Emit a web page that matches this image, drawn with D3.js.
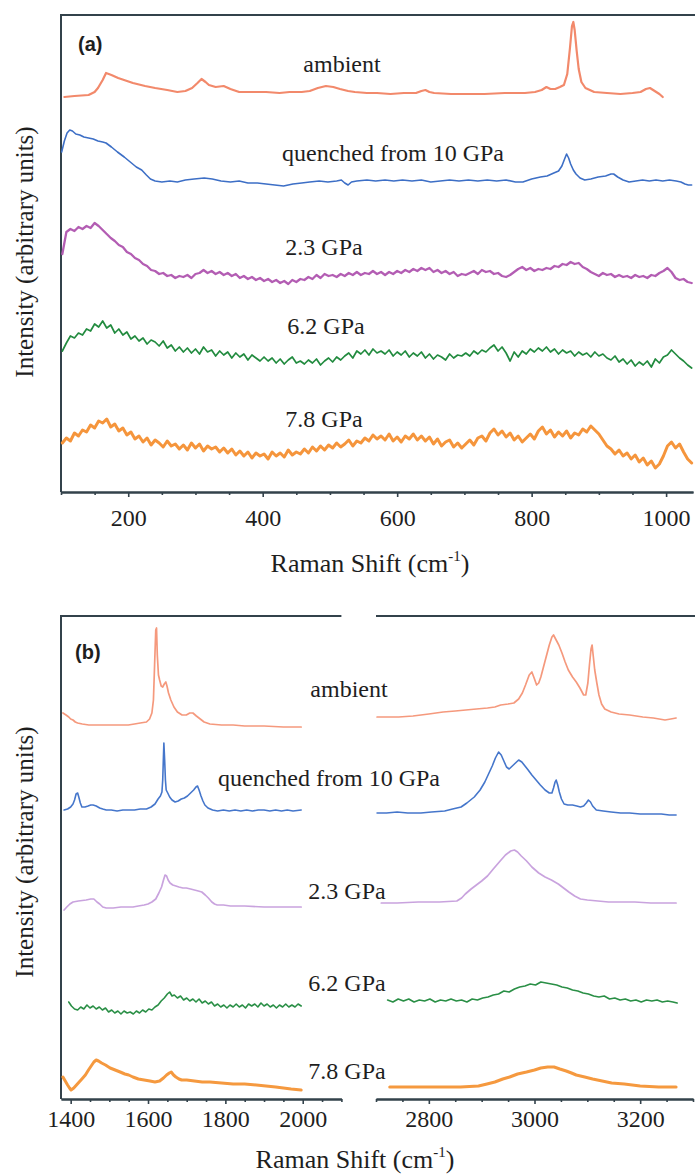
<!DOCTYPE html>
<html><head><meta charset="utf-8">
<script src="https://cdn.jsdelivr.net/npm/d3@7"></script>
<style>body{margin:0;background:#fff}svg{display:block}</style>
</head><body><svg id="fig" width="695" height="1175"></svg>
<script>
// ---------- data: panel (a), 100-1040 cm-1 ----------
const seriesNames = ["ambient", "quenched from 10 GPa", "2.3 GPa", "6.2 GPa", "7.8 GPa"];
const offsetsA = [396, 311, 216, 137, 42];
const ticksA = [200, 400, 600, 800, 1000];

const ambientA = [[105,-1],[120,0],[141,1],[150,4],[155,8],[162,16],[167,23],[175,21],[185,18],[207,13],[225,10],[240,8],[258,6],[273,4],[285,5],[295,8],[303,13],[309,17],[315,14],[320,11],[330,9],[342,10],[352,7],[365,4],[385,4],[405,4],[425,3],[440,4],[458,4],[470,5],[482,8],[494,10],[505,9],[515,7],[527,5],[537,4],[555,3],[570,3],[590,2],[610,3],[628,3],[636,5],[642,6],[648,4],[655,3],[680,2],[700,2],[730,2],[760,3],[790,3],[805,4],[815,6],[822,9],[828,7],[835,7],[842,9],[848,11],[853,22],[857,48],[860,70],[862,74],[864,66],[867,45],[870,27],[874,14],[880,8],[893,4],[912,3],[932,2],[950,3],[962,4],[970,7],[976,8],[983,5],[990,2],[995,-1]];

const quenchedA = [[101,29],[105,40],[109,48],[113,51],[117,50],[122,47],[128,46],[134,44],[141,43],[148,42],[155,40],[162,39],[167,38],[175,34],[184,29],[194,24],[203,19],[212,14],[220,11],[227,6],[233,2],[240,0],[250,-1],[262,0],[273,-1],[285,1],[298,2],[313,3],[325,2],[338,0],[352,-1],[365,0],[378,-2],[392,-2],[405,-3],[418,-4],[431,-5],[445,-3],[458,-2],[470,-1],[484,0],[497,-1],[510,0],[517,1],[522,-2],[527,-4],[532,-1],[540,0],[555,1],[568,0],[582,1],[595,0],[608,1],[622,0],[636,1],[650,-1],[664,0],[678,1],[692,0],[706,1],[720,0],[734,1],[748,0],[762,1],[776,-1],[787,-1],[800,2],[813,4],[823,5],[833,8],[840,10],[845,15],[849,22],[852,27],[855,23],[858,17],[862,11],[866,7],[872,3],[879,1],[888,2],[899,4],[910,5],[918,7],[922,7],[928,4],[936,1],[945,-1],[955,0],[965,1],[975,0],[985,1],[995,0],[1005,1],[1015,0],[1022,-1],[1028,-3],[1033,-4],[1038,-4]];

// the high-pressure scans share one channel grid, 102-1038 cm-1 every 6 cm-1
const channelsA = d3.range(102, 1039, 6);
const gpa23A = [22,44,47,45,49,47,50,48,53,50, 46,42,38,35,31,29,24,22,18,16, 12,10,6,5,2,3,0,1,-2,0, -1,1,-2,2,3,6,3,5,2,4, 1,3,0,2,-2,0,-3,-1,-4,-2, -5,-3,-6,-4,-7,-5,-8,-4,-6,-3, -4,-1,-3,1,-2,2,0,1,-1,2, 0,3,1,4,1,3,2,5,2,4, 1,4,2,5,3,6,4,7,5,8, 6,8,4,6,3,5,2,4,0,2, 1,3,5,2,6,4,5,2,3,0, -1,1,4,7,9,6,8,5,7,6, 8,7,10,9,12,11,14,12,13,9, 7,4,2,0,3,1,2,-1,1,-1, 0,-2,1,-1,0,-2,1,0,3,5, 8,4,-2,-4,-3,-6,-7];
const gpa62A = [4,12,19,17,22,20,26,24,31,28, 34,27,30,22,26,20,23,16,19,14, 17,11,15,13,9,14,7,10,4,8, 3,7,2,6,1,8,3,5,-1,4, 0,3,-3,2,-2,1,-5,0,-3,-6, -2,-6,-3,-8,-4,-9,-5,-2,-8,-6, -9,-5,-8,-4,-10,-6,-3,-7,-2,-5, -1,2,-3,4,1,5,0,6,2,4, 1,5,-1,3,0,4,-2,2,-1,3, -3,1,-4,0,-2,-5,1,-3,0,-1, 2,-1,4,1,5,3,7,10,4,8, 2,-6,3,-2,4,1,6,3,7,4, 8,3,6,1,5,2,4,-1,3,0, 2,-2,3,-1,1,-3,-5,-1,-7,-4, -9,-5,-11,-7,-10,-6,-12,-4,-8,-2, 0,5,1,-3,-6,-10,-13];
const gpa78A = [7,12,9,17,14,20,18,25,22,29, 27,31,23,26,19,22,15,18,11,14, 8,12,5,10,7,3,9,4,6,1, 5,0,7,2,6,-1,4,1,3,-2, 2,-3,1,-5,-1,-6,-2,-8,-3,-6, -4,-9,-2,-6,-3,-7,0,-5,-2,-4, 1,-3,3,-1,4,0,5,2,7,3, 6,10,4,9,7,12,9,15,11,14, 10,16,9,13,8,14,11,16,10,14, 9,13,6,11,4,8,10,3,7,2, 6,10,5,12,14,9,17,21,15,19, 13,17,10,14,8,12,16,11,19,23, 16,20,13,18,14,19,12,17,15,21, 18,24,20,16,10,4,1,-4,0,-6, -3,-9,-5,-12,-8,-15,-11,-18,-14,-6, 4,8,2,6,-2,-9,-13];

// ---------- data: panel (b), 1375-2100 and 2700-3300 cm-1 ----------
const offsetsB = [374, 289, 192, 93, 14];
const ticksBLow = [1400, 1600, 1800, 2000];
const ticksBHigh = [2800, 3000, 3200];

const ambientBLow = [[1380,12],[1388,10],[1395,8],[1400,6],[1406,5],[1412,3],[1418,2],[1430,1],[1447,0],[1470,0],[1500,0],[1525,0],[1549,0],[1565,1],[1580,2],[1596,3],[1604,6],[1610,12],[1614,25],[1617,60],[1620,95],[1622,97],[1624,70],[1627,50],[1630,45],[1634,39],[1638,38],[1642,41],[1646,43],[1649,39],[1653,32],[1659,25],[1667,18],[1676,13],[1688,10],[1699,10],[1708,12],[1716,12],[1725,9],[1735,6],[1745,3],[1760,1],[1790,0],[1820,0],[1850,-1],[1900,-1],[1950,-2],[1996,-2]];
const ambientBHigh = [[2702,8],[2720,8],[2743,8],[2770,9],[2800,11],[2827,13],[2850,14],[2870,15],[2890,16],[2911,17],[2925,18],[2936,20],[2950,21],[2961,22],[2970,26],[2977,32],[2983,40],[2990,50],[2995,53],[3000,46],[3004,40],[3008,42],[3012,48],[3016,56],[3022,68],[3028,80],[3033,88],[3036,90],[3040,86],[3046,80],[3052,72],[3058,63],[3064,55],[3072,48],[3079,43],[3086,37],[3093,30],[3097,30],[3101,42],[3104,60],[3107,76],[3109,80],[3111,70],[3114,55],[3118,42],[3122,30],[3127,21],[3133,16],[3145,13],[3160,11],[3180,10],[3205,8],[3225,7],[3247,5],[3258,6],[3268,7]];

const quenchedBLow = [[1383,0],[1392,1],[1400,3],[1406,6],[1410,10],[1414,16],[1418,17],[1421,13],[1425,7],[1429,3],[1437,3],[1445,4],[1452,5],[1458,5],[1466,4],[1475,2],[1483,1],[1492,0],[1505,0],[1520,-1],[1535,0],[1550,0],[1565,0],[1580,1],[1596,1],[1608,3],[1618,6],[1626,11],[1632,14],[1636,18],[1638,30],[1640,55],[1641,67],[1643,50],[1645,30],[1647,20],[1651,17],[1656,13],[1662,10],[1670,8],[1678,9],[1686,11],[1694,12],[1702,14],[1710,17],[1718,20],[1724,23],[1728,24],[1732,20],[1737,14],[1742,9],[1747,5],[1755,2],[1767,0],[1780,-1],[1795,0],[1810,-1],[1825,0],[1840,-1],[1855,0],[1870,-1],[1885,0],[1900,0],[1915,-1],[1930,0],[1945,-1],[1960,0],[1975,-1],[1996,0]];
const quenchedBHigh = [[2702,-3],[2720,-3],[2740,-2],[2760,-3],[2785,-3],[2805,-2],[2830,-1],[2845,1],[2861,3],[2872,7],[2886,13],[2897,20],[2906,28],[2913,36],[2920,44],[2926,52],[2932,58],[2937,55],[2942,49],[2947,43],[2952,41],[2958,44],[2964,47],[2970,50],[2976,48],[2982,44],[2988,40],[2995,35],[3003,30],[3011,25],[3020,20],[3028,17],[3033,17],[3036,22],[3039,28],[3041,30],[3044,25],[3047,18],[3051,11],[3056,6],[3063,5],[3072,5],[3080,4],[3087,3],[3093,4],[3098,7],[3102,10],[3106,8],[3110,4],[3117,0],[3130,-1],[3145,-2],[3163,-3],[3180,-3],[3200,-4],[3220,-4],[3240,-4],[3255,-5],[3268,-5]];

const gpa23BLow = [[1383,-3],[1390,0],[1398,3],[1406,5],[1420,6],[1440,7],[1452,8],[1460,8],[1468,5],[1475,3],[1483,0],[1492,-1],[1510,-1],[1530,0],[1545,0],[1561,0],[1575,1],[1590,2],[1600,3],[1610,5],[1620,8],[1628,14],[1635,20],[1640,27],[1644,32],[1648,31],[1652,27],[1657,24],[1664,22],[1672,21],[1680,20],[1690,19],[1699,19],[1710,18],[1720,17],[1730,16],[1739,15],[1748,12],[1756,9],[1765,5],[1772,3],[1779,2],[1795,2],[1813,1],[1850,1],[1900,0],[1950,0],[1996,0]];
const gpa23BHigh = [[2710,4],[2740,4],[2780,5],[2820,5],[2853,6],[2862,9],[2869,13],[2880,18],[2890,22],[2900,26],[2911,31],[2922,38],[2935,46],[2945,52],[2955,56],[2962,57],[2968,55],[2975,51],[2985,46],[2995,40],[3008,34],[3020,30],[3032,27],[3045,23],[3055,19],[3065,15],[3076,11],[3087,8],[3100,7],[3120,6],[3140,5],[3163,5],[3190,5],[3220,4],[3245,4],[3268,4]];

const gpa62BLow = [[1395,4],[1402,0],[1410,-3],[1418,-4],[1426,-1],[1434,-3],[1442,1],[1450,-2],[1458,0],[1466,-3],[1474,-1],[1482,-4],[1490,-2],[1498,-6],[1506,-4],[1514,-7],[1522,-5],[1530,-8],[1538,-5],[1546,-7],[1554,-6],[1562,-8],[1570,-5],[1578,-7],[1586,-4],[1594,-6],[1602,-3],[1610,-4],[1618,-1],[1626,1],[1634,5],[1642,8],[1650,12],[1656,14],[1662,10],[1668,11],[1676,8],[1684,10],[1692,6],[1700,8],[1708,5],[1716,7],[1724,4],[1732,7],[1740,3],[1748,5],[1756,2],[1764,4],[1772,0],[1780,2],[1788,-1],[1796,1],[1804,-2],[1812,1],[1820,-1],[1828,2],[1836,-1],[1844,1],[1852,-2],[1860,2],[1868,0],[1876,2],[1884,-1],[1892,3],[1900,0],[1908,2],[1916,-1],[1924,1],[1932,-2],[1940,1],[1948,-1],[1956,2],[1964,-1],[1972,1],[1980,-1],[1988,2],[1996,0]];
const gpa62BHigh = [[2722,6],[2732,4],[2742,7],[2752,5],[2762,7],[2772,4],[2782,6],[2792,5],[2802,7],[2812,4],[2822,6],[2832,5],[2842,7],[2852,5],[2862,6],[2872,4],[2882,7],[2892,6],[2902,8],[2912,9],[2922,11],[2932,12],[2942,15],[2952,14],[2962,17],[2972,19],[2982,20],[2992,22],[3002,21],[3012,24],[3022,23],[3032,22],[3042,21],[3052,19],[3062,18],[3072,16],[3082,15],[3092,13],[3102,12],[3112,10],[3122,9],[3132,10],[3142,7],[3152,8],[3162,6],[3172,7],[3182,5],[3192,6],[3202,4],[3212,6],[3222,5],[3232,6],[3242,4],[3252,5],[3262,4],[3270,3]];

const gpa78BLow = [[1380,8],[1386,4],[1392,0],[1397,-3],[1401,-5],[1408,-3],[1415,0],[1422,3],[1429,6],[1438,10],[1446,15],[1453,19],[1460,23],[1466,25],[1472,24],[1480,22],[1490,20],[1502,17],[1515,15],[1528,13],[1540,11],[1550,10],[1561,8],[1575,6],[1590,5],[1605,4],[1618,3],[1630,4],[1640,7],[1648,10],[1655,12],[1660,13],[1666,10],[1672,8],[1680,6],[1687,5],[1700,5],[1720,4],[1740,3],[1760,3],[1790,2],[1820,1],[1850,1],[1880,0],[1905,-1],[1930,-2],[1950,-3],[1970,-4],[1996,-5]];
const gpa78BHigh = [[2726,-2],[2760,-2],[2790,-2],[2827,-2],[2860,-2],[2894,-1],[2910,1],[2925,3],[2940,6],[2953,8],[2968,11],[2985,13],[3000,15],[3012,17],[3025,18],[3037,18],[3048,16],[3060,14],[3070,12],[3079,10],[3095,8],[3110,6],[3128,4],[3146,2],[3170,1],[3200,-1],[3235,-2],[3268,-2]];

// ---------- drawing ----------
const svg = d3.select("#fig");
const frameColor = "#33424b";
const inkColor = "#1e1e1e";
const SERIF = "\"Liberation Serif\", \"Times New Roman\", Times, serif";
const SANS = "\"Liberation Sans\", Arial, sans-serif";

const colorsA = ["#f2896b", "#3d6fc6", "#b35db3", "#228b3f", "#f5953c"];
const colorsB = ["#f5997d", "#4576cb", "#c9a3de", "#2a8f46", "#f5993f"];
const widthsA = [2.2, 1.6, 2.3, 1.7, 3];
const widthsB = [1.7, 1.6, 1.7, 1.6, 3];

// panel (a) scales
const xA = d3.scaleLinear().domain([100, 1040]).range([61, 693]);
const yA = d3.scaleLinear().domain([0, 477]).range([492, 15]);

// panel (b): broken x axis, two scales sharing one intensity scale
const xBLow = d3.scaleLinear().domain([1375, 2100]).range([61, 341.4]);
const xBHigh = d3.scaleLinear().domain([2700, 3300]).range([376, 693]);
const yB = d3.scaleLinear().domain([0, 483]).range([1099, 616]);

function serifText(sel, size) {
  return sel.style("font-family", SERIF).style("font-size", size + "px").style("fill", inkColor);
}

function drawSpectrum(g, data, x, y, offset, color, width) {
  const line = d3.line().x(d => x(d[0])).y(d => y(d[1] + offset));
  g.append("path").datum(data).attr("d", line)
    .attr("fill", "none").attr("stroke", color).attr("stroke-width", width)
    .attr("stroke-linejoin", "round").attr("stroke-linecap", "round");
}

function minorTicks(domain, majors) {
  const out = [];
  for (let v = Math.ceil(domain[0] / 50) * 50; v <= domain[1]; v += 50) if (!majors.includes(v)) out.push(v);
  return out;
}

function bottomAxis(g, x, y0, majors, pad, fontSize) {
  const major = d3.axisBottom(x).tickValues(majors).tickSize(5).tickSizeOuter(0)
    .tickPadding(pad).tickFormat(d3.format("d"));
  const minor = d3.axisBottom(x).tickValues(minorTicks(x.domain(), majors)).tickSize(3).tickSizeOuter(0).tickFormat("");
  const gm = g.append("g").attr("transform", `translate(0,${y0})`).call(minor);
  const gM = g.append("g").attr("transform", `translate(0,${y0})`).call(major);
  [gm, gM].forEach(a => {
    a.select(".domain").attr("stroke", frameColor).attr("stroke-width", 2);
    a.selectAll(".tick line").attr("stroke", frameColor).attr("stroke-width", 1.6);
  });
  serifText(gM.selectAll(".tick text"), fontSize);
}

function xTitle(g, cx, baseline) {
  const t = serifText(g.append("text"), 26).attr("x", cx).attr("y", baseline).attr("text-anchor", "middle");
  t.append("tspan").text("Raman Shift (cm");
  t.append("tspan").style("font-size", "15px").attr("dy", -11).text("-1");
  t.append("tspan").attr("dy", 11).text(")");
}

function yTitle(g, cx, cy) {
  serifText(g.append("text"), 25).attr("transform", `translate(${cx},${cy}) rotate(-90)`)
    .attr("text-anchor", "middle").text("Intensity (arbitrary units)");
}

function seriesLabels(g, positions) {
  serifText(g.selectAll("text.lbl").data(seriesNames).join("text").attr("class", "lbl"), 24)
    .attr("x", (d, i) => positions[i][0]).attr("y", (d, i) => positions[i][1])
    .attr("text-anchor", "middle").text(d => d);
}

function panelTag(g, x, y, text) {
  g.append("text").attr("x", x).attr("y", y).text(text)
    .style("font-family", SANS).style("font-weight", "bold").style("font-size", "20px").style("fill", inkColor);
}

// ----- panel (a) -----
const gA = svg.append("g");
gA.append("path").attr("d", `M${xA.range()[1] + 3},${yA.range()[1]}H${xA.range()[0]}V${yA.range()[0]}`)
  .attr("fill", "none").attr("stroke", frameColor).attr("stroke-width", 2);

const seriesA = [
  ambientA,
  quenchedA,
  channelsA.map((s, i) => [s, gpa23A[i]]),
  channelsA.map((s, i) => [s, gpa62A[i]]),
  channelsA.map((s, i) => [s, gpa78A[i]])
];
seriesA.forEach((d, i) => drawSpectrum(gA, d, xA, yA, offsetsA[i], colorsA[i], widthsA[i]));
bottomAxis(gA, xA, yA.range()[0], ticksA, 12, 24);
seriesLabels(gA, [[342, 72], [393, 161], [324, 255], [326, 334], [324, 427]]);
panelTag(gA, 78, 51, "(a)");
xTitle(gA, 370, 572);
yTitle(gA, 33, 252);

// ----- panel (b) -----
const gB = svg.append("g");
const topB = yB.range()[1];
gB.append("path")
  .attr("d", `M${xBLow.range()[1]},${topB}H${xBLow.range()[0]}V${yB.range()[0]}M${xBHigh.range()[0]},${topB}H${xBHigh.range()[1] + 3}`)
  .attr("fill", "none").attr("stroke", frameColor).attr("stroke-width", 2);

const seriesBLow = [ambientBLow, quenchedBLow, gpa23BLow, gpa62BLow, gpa78BLow];
const seriesBHigh = [ambientBHigh, quenchedBHigh, gpa23BHigh, gpa62BHigh, gpa78BHigh];
seriesBLow.forEach((d, i) => drawSpectrum(gB, d, xBLow, yB, offsetsB[i], colorsB[i], widthsB[i]));
seriesBHigh.forEach((d, i) => drawSpectrum(gB, d, xBHigh, yB, offsetsB[i], colorsB[i], widthsB[i]));
bottomAxis(gB, xBLow, yB.range()[0], ticksBLow, 6, 24);
bottomAxis(gB, xBHigh, yB.range()[0], ticksBHigh, 6, 24);
seriesLabels(gB, [[349, 697], [329, 786], [347, 899], [347, 991], [347, 1079]]);
panelTag(gB, 75, 659, "(b)");
xTitle(gB, 355, 1168);
yTitle(gB, 33, 852);
</script></body></html>
